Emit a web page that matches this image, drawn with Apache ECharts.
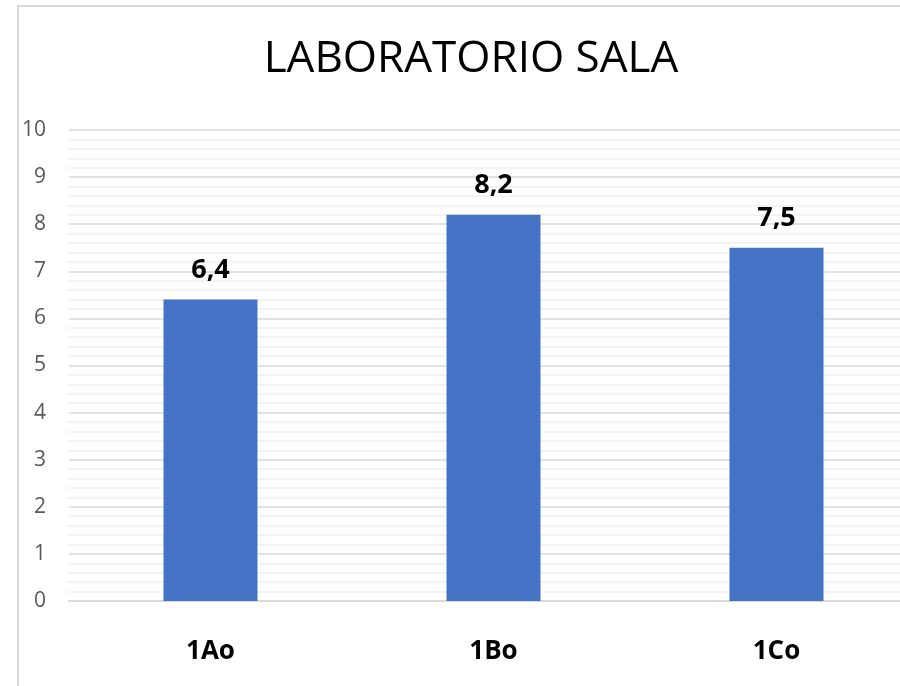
<!DOCTYPE html>
<html>
<head>
<meta charset="utf-8">
<script src="https://cdn.jsdelivr.net/npm/echarts@6/dist/echarts.min.js"></script>
<style>
  html, body { margin: 0; padding: 0; background: #fff; }
  #chart { width: 900px; height: 686px; }
</style>
</head>
<body>
<div id="chart"></div>
<script>
// data
var categories = ['1Ao', '1Bo', '1Co'];
var values = [6.4, 8.2, 7.5];

var myChart = echarts.init(document.getElementById('chart'));

option = {
    backgroundColor: '#fff',
    animation: false,
    title: {
        text: 'LABORATORIO SALA',
        left: 466,
        top: 32,
        textAlign: 'center',
        textStyle: {
            fontFamily: 'Open Sans',
            fontWeight: 'normal',
            fontSize: 44,
            color: '#000'
        }
    },
    // chart frame (left and top edges are visible)
    graphic: [{
        type: 'rect',
        shape: { x: 18, y: 6, width: 1000, height: 1000 },
        style: { fill: 'none', stroke: '#d9d9d9', lineWidth: 2 },
        silent: true
    }],
    grid: {
        left: 69, top: 130, width: 849, bottom: 85,
        containLabel: false,
        outerBoundsMode: 'none'
    },
    xAxis: {
        type: 'category',
        data: categories,
        axisTick: { show: false },
        axisLine: { lineStyle: { color: '#d9d9d9', width: 2 } },
        axisLabel: {
            margin: 38,
            fontFamily: 'Open Sans',
            fontWeight: 'bold',
            fontSize: 26,
            color: '#000'
        }
    },
    yAxis: {
        type: 'value',
        min: 0,
        max: 10,
        interval: 1,
        axisLine: { show: false },
        axisTick: { show: false },
        axisLabel: {
            margin: 23,
            fontFamily: 'Open Sans',
            fontSize: 21,
            color: '#595959'
        },
        splitLine: { lineStyle: { color: '#d9d9d9', width: 1.5 } },
        minorTick: { show: false, splitNumber: 5 },
        minorSplitLine: { show: true, lineStyle: { color: '#efefef', width: 1.5 } }
    },
    series: [{
        type: 'bar',
        data: values,
        barWidth: 94,
        itemStyle: { color: '#4472c4' },
        label: {
            show: true,
            position: 'top',
            distance: 16,
            fontFamily: 'Open Sans',
            fontWeight: 'bold',
            fontSize: 27,
            color: '#000',
            formatter: function (p) {
                return String(p.value).replace('.', ',');
            }
        }
    }]
};

myChart.setOption(option);
</script>
</body>
</html>
